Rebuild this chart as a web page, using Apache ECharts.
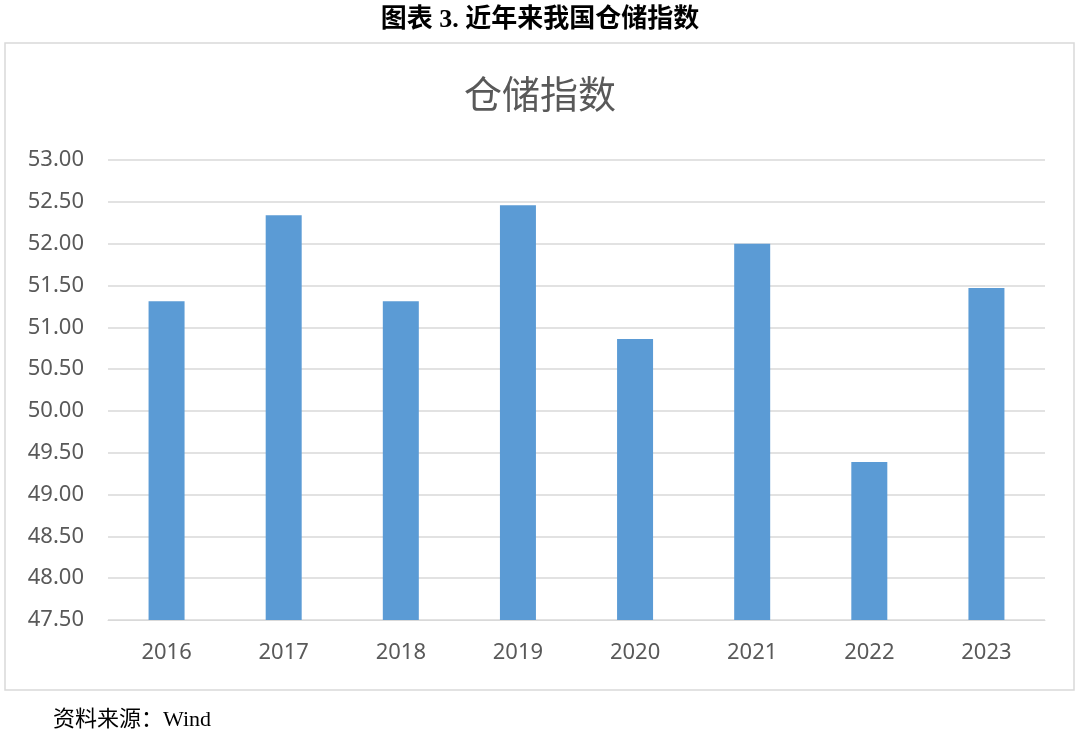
<!DOCTYPE html>
<html>
<head>
<meta charset="utf-8">
<script src="https://cdn.jsdelivr.net/npm/echarts@6/dist/echarts.min.js"></script>
<style>html,body{margin:0;padding:0;background:#fff}#main{width:1080px;height:730px}</style>
</head>
<body>
<div id="main"></div>
<script>
var years = ["2016", "2017", "2018", "2019", "2020", "2021", "2022", "2023"];
var values = [51.31, 52.34, 51.31, 52.46, 50.86, 52.00, 49.39, 51.47];

var myChart = echarts.init(document.getElementById("main"));
myChart.setOption({
    animation: false,
    title: [
        {
            text: "图表 3. 近年来我国仓储指数",
            left: "center",
            top: 2,
            textStyle: { fontFamily: "Liberation Serif, Noto Sans CJK SC", fontWeight: "bold", fontSize: 26, color: "#000" }
        },
        {
            text: "仓储指数",
            left: "center",
            top: 70,
            textStyle: { fontFamily: "Noto Sans CJK SC", fontWeight: "normal", fontSize: 38, color: "#595959" }
        },
        {
            text: "资料来源：Wind",
            left: 48,
            top: 704,
            textStyle: { fontFamily: "Liberation Serif, Noto Sans CJK SC", fontWeight: "normal", fontSize: 22, color: "#000" }
        }
    ],
    graphic: [{
        type: "rect",
        shape: { x: 5, y: 43, width: 1069, height: 647 },
        style: { fill: "none", stroke: "#d9d9d9", lineWidth: 1.5 }
    }],
    grid: { left: 108, right: 35, top: 160, bottom: 110 },
    xAxis: {
        type: "category",
        data: years,
        axisLine: { lineStyle: { color: "#d9d9d9" } },
        axisTick: { show: false },
        axisLabel: { color: "#595959", fontSize: 22, fontFamily: "Noto Sans", margin: 22 }
    },
    yAxis: {
        type: "value",
        min: 47.5,
        max: 53,
        interval: 0.5,
        axisLine: { show: false },
        axisTick: { show: false },
        splitLine: { lineStyle: { color: "#d9d9d9", width: 1.5 } },
        axisLabel: {
            color: "#595959", fontSize: 22, fontFamily: "Noto Sans", margin: 24,
            formatter: function (v) { return v.toFixed(2); }
        }
    },
    series: [{
        type: "bar",
        data: values,
        barWidth: 36,
        itemStyle: { color: "#5b9bd5" }
    }]
});
</script>
</body>
</html>
